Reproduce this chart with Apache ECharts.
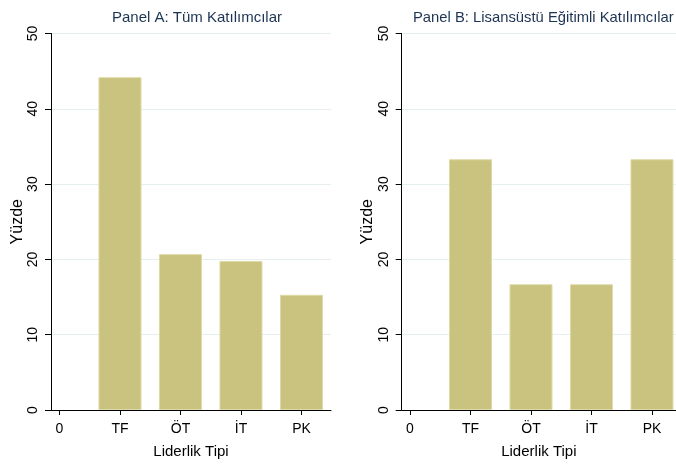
<!DOCTYPE html>
<html><head><meta charset="utf-8">
<script src="https://cdn.jsdelivr.net/npm/echarts@6/dist/echarts.min.js"></script>
<style>html,body{margin:0;padding:0;background:#fff}#c{width:676px;height:466px}</style>
</head><body><div id="c"></div>
<script>
var tickLabels = ['0', 'TF', 'ÖT', 'İT', 'PK'];
var barPositions = [1, 2, 3, 4];
var panelAValues = [44.2, 20.7, 19.8, 15.3];
var panelBValues = [33.3, 16.7, 16.7, 33.3];
var titleA = 'Panel A: Tüm Katılımcılar';
var titleB = 'Panel B: Lisansüstü Eğitimli Katılımcılar';
var yName = 'Yüzde';
var xName = 'Liderlik Tipi';

var FONT = 'Liberation Sans, Arial, Helvetica, sans-serif';
function pairs(vals){ return vals.map(function(v,i){ return [barPositions[i], v]; }); }
function xAxis(idx, min, max){
  return {
    type:'value', gridIndex: idx, min:min, max:max,
    name: xName, nameLocation:'middle', nameGap: 34,
    nameTextStyle:{fontFamily:FONT, fontSize:15, color:'#000'},
    axisLine:{show:true, onZero:false, lineStyle:{color:'#000', width:1}},
    axisTick:{show:true, length:5, customValues:[0,1,2,3,4], lineStyle:{color:'#000'}},
    axisLabel:{customValues:[0,1,2,3,4], margin:12, fontFamily:FONT, fontSize:14, color:'#000',
      formatter:function(v){ return tickLabels[Math.round(v)]; }},
    splitLine:{show:false}
  };
}
function yAxis(idx){
  return {
    type:'value', gridIndex: idx, min:0, max:50, interval:10,
    name: yName, nameLocation:'middle', nameGap: 25, nameRotate: 90,
    nameTextStyle:{fontFamily:FONT, fontSize:16, color:'#000'},
    axisLine:{show:true, onZero:false, lineStyle:{color:'#000', width:1}},
    axisTick:{show:true, length:6, lineStyle:{color:'#000'}},
    axisLabel:{rotate:90, margin:11, fontFamily:FONT, fontSize:14, color:'#000'},
    splitLine:{show:true, lineStyle:{color:'#E6EFF0', width:1}}
  };
}
var barStyle = {color:'#C9C37F', borderColor:'#DEDAA6', borderWidth:1};
var chart = echarts.init(document.getElementById('c'), null, {renderer:'canvas'});
chart.setOption({
  backgroundColor:'#fff',
  animation:false,
  title:[
    {text:titleA, left:192, top:5, textAlign:'center', textStyle:{fontFamily:FONT, fontSize:15, fontWeight:'normal', color:'#1C3352'}},
    {text:titleB, left:413, top:10, textAlign:'left', padding:0, textStyle:{fontFamily:FONT, fontSize:14.8, fontWeight:'normal', color:'#1C3352'}}
  ],
  grid:[
    {left:51, top:33.5, width:280, bottom:56},
    {left:401.7, top:33.5, right:0, bottom:56}
  ],
  xAxis:[xAxis(0, -0.14, 4.488), xAxis(1, -0.137, 4.397)],
  yAxis:[yAxis(0), yAxis(1)],
  series:[
    {type:'bar', xAxisIndex:0, yAxisIndex:0, data:pairs(panelAValues), barWidth:43, itemStyle:barStyle},
    {type:'bar', xAxisIndex:1, yAxisIndex:1, data:pairs(panelBValues), barWidth:43, itemStyle:barStyle}
  ]
});
</script></body></html>
